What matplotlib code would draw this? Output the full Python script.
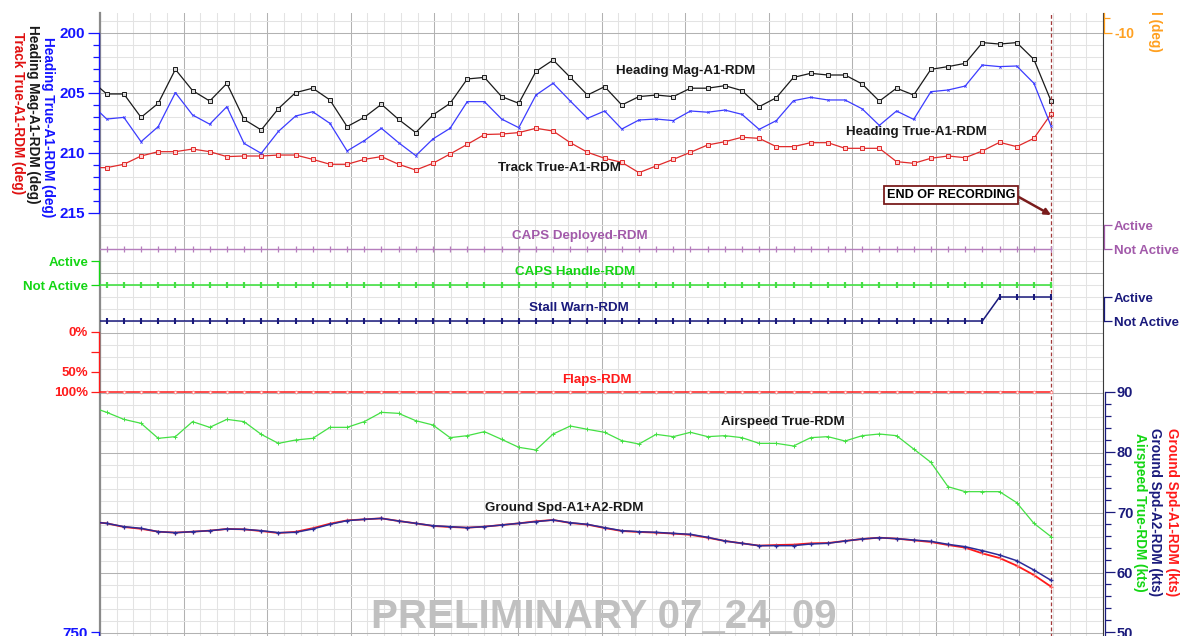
import numpy as np
import matplotlib
matplotlib.use("Agg")
import matplotlib.pyplot as plt
from matplotlib.transforms import Bbox, TransformedBbox

plt.rcParams['font.family'] = ['Liberation Sans', 'DejaVu Sans']
plt.rcParams['font.weight'] = 'bold'

# ---------------------------------------------------------------- data
# one sample per second; the first sample sits just before the left edge
seconds = np.arange(-1, 56)
end_of_recording = 55

heading_mag = [203.85, 205.08, 205.08, 207.03, 205.86, 203.03, 204.80, 205.67, 204.20, 207.20,
               208.08, 206.30, 204.97, 204.60, 205.58, 207.80, 207.03, 205.94, 207.20, 208.30,
               206.83, 205.86, 203.83, 203.70, 205.30, 205.86, 203.20, 202.25, 203.70, 205.17,
               204.47, 206.00, 205.30, 205.17, 205.30, 204.60, 204.60, 204.39, 204.80, 206.14,
               205.39, 203.70, 203.36, 203.50, 203.50, 204.25, 205.68, 204.60, 205.17, 203.03,
               202.80, 202.53, 200.80, 200.92, 200.80, 202.20, 205.67]

heading_true = [205.80, 207.17, 207.03, 209.06, 207.80, 204.97, 206.83, 207.60, 206.14, 209.20,
                210.03, 208.20, 206.92, 206.56, 207.53, 209.83, 208.97, 207.94, 209.14, 210.22,
                208.83, 207.94, 205.72, 205.72, 207.17, 207.89, 205.17, 204.19, 205.67, 207.11,
                206.50, 208.00, 207.25, 207.17, 207.30, 206.50, 206.60, 206.42, 206.78, 208.03,
                207.30, 205.64, 205.36, 205.58, 205.58, 206.32, 207.70, 206.50, 207.20, 204.89,
                204.75, 204.42, 202.67, 202.80, 202.75, 204.19, 207.75]

track_true = [211.22, 211.22, 210.94, 210.25, 209.89, 209.89, 209.67, 209.89, 210.30, 210.25,
              210.25, 210.17, 210.17, 210.53, 210.94, 210.94, 210.53, 210.30, 210.94, 211.42,
              210.86, 210.08, 209.28, 208.46, 208.42, 208.30, 207.94, 208.17, 209.14, 209.94,
              210.44, 210.78, 211.64, 211.08, 210.53, 209.94, 209.33, 209.06, 208.69, 208.78,
              209.47, 209.47, 209.14, 209.14, 209.61, 209.61, 209.61, 210.72, 210.86, 210.44,
              210.25, 210.39, 209.83, 209.11, 209.47, 208.78, 206.75]

# discrete states: 0 = Not Active, 1 = Active
caps_deployed = [0] * 57
caps_handle = [0] * 57
stall_warn = [0] * 53 + [1] * 4
flaps = [100] * 57          # percent

airspeed_true = [87.60, 86.61, 85.44, 84.78, 82.28, 82.56, 85.06, 84.11, 85.44, 85.06,
                 82.94, 81.44, 82.00, 82.28, 84.11, 84.11, 85.06, 86.61, 86.44, 85.22,
                 84.50, 82.39, 82.72, 83.39, 82.11, 80.78, 80.33, 83.00, 84.33, 83.78,
                 83.28, 81.89, 81.33, 82.94, 82.56, 83.28, 82.56, 82.72, 82.39, 81.44,
                 81.44, 81.00, 82.39, 82.56, 81.83, 82.72, 83.00, 82.72, 80.50, 78.28,
                 74.22, 73.39, 73.39, 73.39, 71.56, 68.11, 65.89]

ground_spd_a1 = [68.39, 68.11, 67.50, 67.20, 66.72, 66.56, 66.72, 66.89, 67.17, 67.11,
                 66.83, 66.50, 66.70, 67.30, 68.05, 68.60, 68.78, 68.94, 68.50, 68.11,
                 67.67, 67.50, 67.39, 67.56, 67.83, 68.11, 68.45, 68.67, 68.17, 67.90,
                 67.33, 66.83, 66.67, 66.56, 66.40, 66.20, 65.72, 65.17, 64.78, 64.39,
                 64.50, 64.56, 64.78, 64.83, 65.17, 65.50, 65.72, 65.56, 65.28, 65.00,
                 64.50, 64.06, 63.10, 62.33, 61.06, 59.50, 57.56]

ground_spd_a2 = [68.39, 68.11, 67.56, 67.28, 66.72, 66.56, 66.72, 66.89, 67.17, 67.11,
                 66.89, 66.56, 66.61, 67.17, 67.94, 68.56, 68.78, 68.94, 68.50, 68.11,
                 67.72, 67.56, 67.39, 67.56, 67.83, 68.11, 68.39, 68.67, 68.22, 67.94,
                 67.39, 66.89, 66.72, 66.61, 66.44, 66.28, 65.78, 65.17, 64.78, 64.39,
                 64.39, 64.39, 64.67, 64.78, 65.17, 65.50, 65.72, 65.56, 65.33, 65.11,
                 64.61, 64.22, 63.56, 62.83, 61.89, 60.33, 58.61]

heading_ticks = [200, 205, 210, 215]
speed_ticks = [50, 60, 70, 80, 90]
state_labels = ['Not Active', 'Active']
flap_labels = ['0%', '', '50%', '100%']

# ---------------------------------------------------------------- layout
W, H = 1181, 636
PX_L, PX_R, PX_T, PX_B = 100, 1103, 13, 700     # plot frame in pixels
T0_PX, SEC_PX = 106.7, 17.17                      # x of second 0, pixels per second

BLUE = '#1414ff'
BLUE_LINE = '#3c3cff'
BLACK = '#1a1a1a'
RED = '#ff1a1a'
TRACK_RED = '#e02a2a'
PURPLE = '#a25aaa'
PURPLE_LINE = '#b67ebd'
GREEN = '#14d614'
GREEN_LINE = '#44e044'
NAVY = '#1a1a7c'
ORANGE = '#ffa020'
DARK_RED = '#7a1c1c'


def fx(px):
    return px / W


def fy(py):
    return 1 - py / H


rect = [fx(PX_L), fy(PX_B), (PX_R - PX_L) / W, (PX_B - PX_T) / H]
t_left = (PX_L - T0_PX) / SEC_PX
t_right = (PX_R - T0_PX) / SEC_PX

fig = plt.figure(figsize=(W / 100, H / 100), dpi=100)
fig.patch.set_facecolor('white')

# background grid (pixel-aligned frame)
grid = fig.add_axes(rect, zorder=0)
grid.set_xlim(0, 60)
grid.set_ylim(PX_B, PX_T)
grid.set_xticks(np.arange(0, 61, 5))
grid.set_xticks(np.arange(0, 61, 1), minor=True)
grid.set_yticks(np.arange(33, PX_B, 60))
grid.set_yticks(np.arange(21, PX_B, 12), minor=True)
grid.grid(which='minor', color='#e3e3e3', lw=0.75)
grid.grid(which='major', color='#b2b2b2', lw=0.75)
grid.tick_params(which='both', length=0, labelleft=False, labelbottom=False)
for side in ('top', 'bottom'):
    grid.spines[side].set_visible(False)
grid.spines['left'].set_color('#8a8a8a')
grid.spines['left'].set_linewidth(1.6)
grid.spines['right'].set_color('#3a3a3a')
grid.spines['right'].set_linewidth(0.8)

layer_count = [0]


def layer(anchor_a, anchor_b):
    """Transparent axes whose y scale puts value a at pixel row a and value b at row b."""
    (va, pa), (vb, pb) = anchor_a, anchor_b
    layer_count[0] += 1
    ax = fig.add_axes(rect, zorder=1 + layer_count[0])
    ax.patch.set_visible(False)
    slope = (pb - pa) / (vb - va)
    ax.set_ylim(va + (PX_B - pa) / slope, va + (PX_T - pa) / slope)
    ax.set_xlim(t_left, t_right)
    for s in ax.spines.values():
        s.set_visible(False)
    ax.set_xticks([])
    ax.set_yticks([])
    return ax


def bracket(ax, side, lo, hi, major, labels, color, size, minor=None,
            out=1.0, majlen=6, minlen=3):
    sp = ax.spines[side]
    sp.set_visible(True)
    sp.set_color(color)
    sp.set_linewidth(0.9)
    sp.set_bounds(lo, hi)
    sp.set_position(('outward', out))
    ax.yaxis.set_ticks_position(side)
    ax.yaxis.set_label_position(side)
    ax.set_yticks(major)
    ax.set_yticklabels(labels)
    if minor is not None:
        ax.set_yticks(minor, minor=True)
    ax.tick_params(axis='y', which='major', length=majlen, width=0.9, color=color,
                   labelcolor=color, labelsize=size, pad=1.5,
                   left=(side == 'left'), right=(side == 'right'),
                   labelleft=(side == 'left'), labelright=(side == 'right'))
    ax.tick_params(axis='y', which='minor', length=minlen, width=0.9, color=color,
                   left=(side == 'left'), right=(side == 'right'))


# headings
hd = layer((200, 33), (215, 213))
hd.plot(seconds, track_true, color=TRACK_RED, lw=0.9, marker='s', ms=2.6,
        mfc='#ffd0d0', mec=TRACK_RED, mew=0.7)
hd.plot(seconds, heading_true, color=BLUE_LINE, lw=0.9, marker='x', ms=1.6, mew=0.6)
hd.plot(seconds, heading_mag, color=BLACK, lw=0.9, marker='s', ms=2.6,
        mfc='#d8d8d8', mec=BLACK, mew=0.7)
bracket(hd, 'left', 200, 215, heading_ticks, [str(v) for v in heading_ticks], BLUE, 11,
        minor=np.arange(200, 216, 1), majlen=8, minlen=4)

# CAPS deployed
cd = layer((1, 225), (0, 249))
cd.plot(seconds, caps_deployed, color=PURPLE_LINE, lw=1.0, marker='|', ms=4, mew=0.9)
bracket(cd, 'right', 0, 1, [0, 1], state_labels, PURPLE, 9.5, out=0.5)

# CAPS handle
ch = layer((1, 261), (0, 285))
ch.plot(seconds, caps_handle, color=GREEN_LINE, lw=1.2, marker='|', ms=4, mew=1.6)
bracket(ch, 'left', 0, 1, [0, 1], state_labels, GREEN, 9.5)

# stall warning
sw = layer((1, 297), (0, 321))
sw.plot(seconds, stall_warn, color=NAVY, lw=1.1, marker='|', ms=4, mew=1.5)
bracket(sw, 'right', 0, 1, [0, 1], state_labels, NAVY, 9.5, out=0.5)

# flaps
fl = layer((0, 332), (100, 392))
fl.plot(seconds, flaps, color=RED, lw=1.1, marker='o', ms=2, mfc='white', mec='#ff8080', mew=0.6)
bracket(fl, 'left', 0, 100, [0, 100 / 3, 200 / 3, 100], flap_labels, RED, 9.5)

# speeds
sp = layer((90, 392), (50, 632))
sp.plot(seconds, airspeed_true, color=GREEN_LINE, lw=0.9, marker='+', ms=3.5, mew=0.7)
sp.plot(seconds, ground_spd_a1, color=RED, lw=1.3, marker='+', ms=3.5, mew=0.8,
        mec='#ff7070')
sp.plot(seconds, ground_spd_a2, color='#2c2c98', lw=1.1, marker='+', ms=3.5, mew=0.9)
sp_bottom = sp.get_ylim()[0]
bracket(sp, 'right', sp_bottom, 90, speed_ticks, [str(v) for v in speed_ticks], NAVY, 10.5,
        minor=np.arange(40, 91, 2), out=1.5, majlen=7, minlen=4)

# roll (scale only, trace is above the visible range)
rl = layer((-10, 33), (-5, 18))
bracket(rl, 'right', -10, rl.get_ylim()[1], [-10], ['-10'], ORANGE, 10,
        minor=[-5], out=0.5, majlen=6, minlen=4)

# altitude (scale continues below)
al = layer((750, 632), (700, 692))
bracket(al, 'left', al.get_ylim()[0], 750, [750], ['750'], BLUE, 11)

# end of recording marker
hd.axvline(end_of_recording, color='#a33a3a', lw=0.9, ls=(0, (3, 2)), zorder=5)
hd.annotate('END OF RECORDING', xy=(end_of_recording, fy(215)),
            xycoords=('data', 'figure fraction'),
            xytext=(fx(951), fy(195)), textcoords='figure fraction',
            ha='center', va='center', fontsize=9.1, color='black',
            bbox=dict(boxstyle='square,pad=0.22', fc='white', ec=DARK_RED, lw=1.3),
            arrowprops=dict(arrowstyle='-|>', color=DARK_RED, lw=1.8, mutation_scale=9,
                            shrinkA=0, shrinkB=0, relpos=(1.0, 0.5)),
            zorder=10, annotation_clip=False)

# trace names inside the plot
trace_names = [
    ('Heading Mag-A1-RDM', 686, 71, BLACK),
    ('Heading True-A1-RDM', 916, 132, BLACK),
    ('Track True-A1-RDM', 559, 168, BLACK),
    ('CAPS Deployed-RDM', 580, 236, PURPLE),
    ('CAPS Handle-RDM', 575, 272, GREEN),
    ('Stall Warn-RDM', 579, 308, NAVY),
    ('Flaps-RDM', 597, 380, RED),
    ('Airspeed True-RDM', 783, 422, BLACK),
    ('Ground Spd-A1+A2-RDM', 564, 508, BLACK),
]
for text, px, py, c in trace_names:
    fig.text(fx(px), fy(py), text, color=c, fontsize=9.6, ha='center', va='center', zorder=20)

# axis titles
axis_titles = [
    ('Heading True-A1-RDM (deg)', 48, 37, BLUE),
    ('Heading Mag-A1-RDM (deg)', 33, 25, BLACK),
    ('Track True-A1-RDM (deg)', 17.5, 32, '#e01010'),
    ('Ground Spd-A1-RDM (kts)', 1172, 428, RED),
    ('Ground Spd-A2-RDM (kts)', 1155, 428, NAVY),
    ('Airspeed True-RDM (kts)', 1140, 433, GREEN),
]
for text, px, py, c in axis_titles:
    fig.text(fx(px), fy(py), text, color=c, fontsize=9.8, rotation=270,
             ha='center', va='top', zorder=20)

# roll title runs off the top of the chart area and is cut at the frame top
roll_title = fig.text(fx(1155), fy(52), 'Roll (deg)', color=ORANGE, fontsize=9.8,
                      rotation=270, ha='center', va='bottom', zorder=20)
roll_title.set_clip_box(TransformedBbox(Bbox([[0, 0], [1, fy(PX_T)]]), fig.transFigure))
roll_title.set_clip_on(True)

# watermark
fig.text(fx(604), fy(628), 'PRELIMINARY 07_24_09', color='#c0c0c0', fontsize=29,
         ha='center', va='baseline', zorder=20)

fig.savefig('out.png', dpi=100)
